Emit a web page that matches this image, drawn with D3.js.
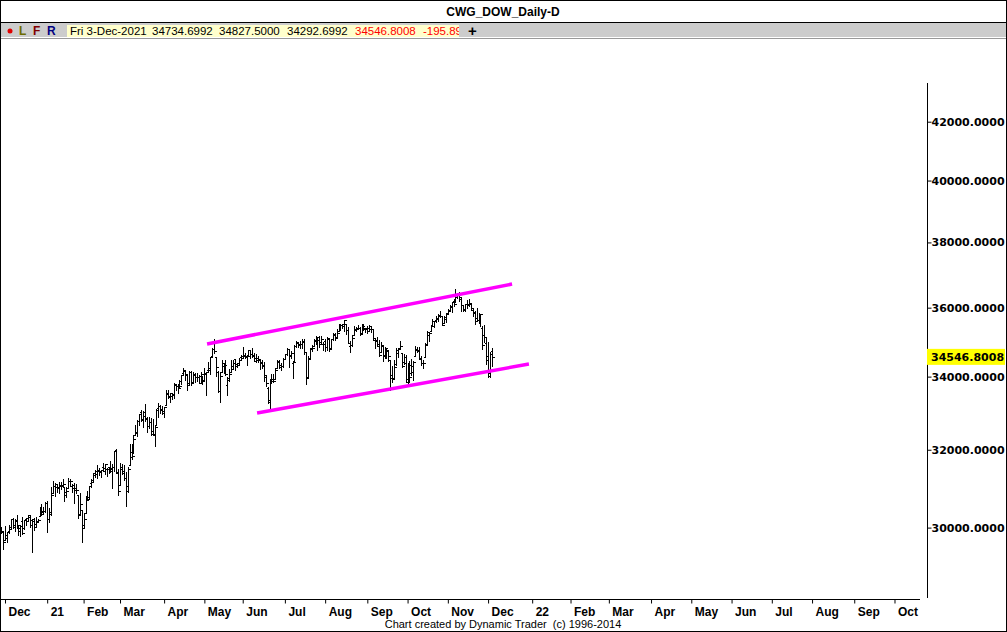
<!DOCTYPE html>
<html><head><meta charset="utf-8">
<script src="https://cdn.jsdelivr.net/npm/d3@7"></script>
<style>body{margin:0;background:#fff}svg{display:block}text{white-space:pre}</style>
</head><body><svg id="c" width="1007" height="632"></svg>
<script>
const title = "CWG_DOW_Daily-D";
const footer = "Chart created by Dynamic Trader  (c) 1996-2014";
const headerTexts = ["Fri 3-Dec-2021","34734.6992","34827.5000","34292.6992","34546.8008","-195.89"];
const lastPrice = 34546.8008;
// [date, open, high, low, close]
const bars = [
["2020-11-27",29973,30014,29865,29910],["2020-11-30",29893,29893,29467,29638],
["2020-12-01",29705,30051,29705,29823],["2020-12-02",29746,29902,29654,29884],["2020-12-03",29924,30070,29860,29970],["2020-12-04",30010,30219,29980,30218],
["2020-12-07",30208,30233,29989,30070],["2020-12-08",30013,30204,29920,30174],["2020-12-09",30187,30319,29995,30068],["2020-12-10",29997,30060,29815,29999],["2020-12-11",29920,30062,29787,30046],
["2020-12-14",30158,30268,29842,29862],["2020-12-15",29980,30202,29956,30199],["2020-12-16",30224,30249,30068,30155],["2020-12-17",30241,30326,30184,30304],["2020-12-18",30275,30319,30007,30179],
["2020-12-21",30075,30215,29400,30216],["2020-12-22",30176,30240,29950,30015],["2020-12-23",30088,30270,30022,30129],["2020-12-24",30153,30227,30130,30200],
["2020-12-28",30283,30526,30283,30404],["2020-12-29",30492,30600,30307,30336],["2020-12-30",30400,30526,30370,30409],["2020-12-31",30418,30638,30389,30606],
["2021-01-04",30627,30674,29881,30224],["2021-01-05",30205,30504,30142,30392],["2021-01-06",30351,31023,30321,30829],["2021-01-07",30870,31193,30870,31041],["2021-01-08",31041,31140,30794,31098],
["2021-01-11",31016,31104,30907,31009],["2021-01-12",31015,31154,30865,31068],["2021-01-13",31063,31147,30964,31060],["2021-01-14",31085,31224,31048,31113],["2021-01-15",31034,31034,30671,30814],
["2021-01-19",30887,31027,30774,30930],["2021-01-20",31009,31272,31008,31188],["2021-01-21",31192,31224,31047,31176],["2021-01-22",31061,31093,30900,30997],
["2021-01-25",31070,31121,30612,30960],["2021-01-26",31010,31106,30879,30937],["2021-01-27",30810,30831,30248,30303],["2021-01-28",30330,30870,30330,30603],["2021-01-29",30440,30440,29650,29983],
["2021-02-01",30054,30377,29990,30212],["2021-02-02",30353,30794,30353,30688],["2021-02-03",30734,30913,30682,30724],["2021-02-04",30782,31057,30714,31056],["2021-02-05",31129,31230,31031,31148],
["2021-02-08",31199,31387,31144,31386],["2021-02-09",31341,31468,31298,31376],["2021-02-10",31436,31593,31248,31438],["2021-02-11",31472,31531,31326,31431],["2021-02-12",31420,31459,31280,31458],
["2021-02-16",31553,31644,31441,31523],["2021-02-17",31445,31616,31362,31613],["2021-02-18",31481,31514,31300,31494],["2021-02-19",31537,31545,31400,31494],
["2021-02-22",31454,31700,31413,31522],["2021-02-23",31433,31613,31010,31537],["2021-02-24",31552,31961,31445,31962],["2021-02-25",31997,32010,31378,31402],["2021-02-26",31417,31502,30830,30932],
["2021-03-01",31066,31653,31066,31535],["2021-03-02",31483,31616,31370,31392],["2021-03-03",31431,31588,31200,31270],["2021-03-04",31249,31405,30547,30924],["2021-03-05",31044,31540,30903,31496],
["2021-03-08",31594,32150,31594,31802],["2021-03-09",31938,32150,31749,31833],["2021-03-10",31967,32389,31904,32297],["2021-03-11",32395,32661,32387,32485],["2021-03-12",32444,32793,32369,32779],
["2021-03-15",32782,32953,32661,32953],["2021-03-16",33012,33072,32776,32826],["2021-03-17",32810,33047,32607,33015],["2021-03-18",32917,33227,32760,32862],["2021-03-19",32834,32875,32479,32628],
["2021-03-22",32641,32887,32589,32731],["2021-03-23",32749,32840,32404,32423],["2021-03-24",32502,32816,32396,32420],["2021-03-25",32381,32640,32090,32619],["2021-03-26",32668,33098,32668,33072],
["2021-03-29",33136,33259,32893,33171],["2021-03-30",33173,33200,32985,33067],["2021-03-31",33107,33174,32975,32982],
["2021-04-01",33055,33167,32874,33153],
["2021-04-05",33222,33617,33222,33527],["2021-04-06",33530,33616,33402,33430],["2021-04-07",33446,33531,33303,33446],["2021-04-08",33554,33554,33379,33503],["2021-04-09",33482,33810,33398,33801],
["2021-04-12",33762,33793,33621,33746],["2021-04-13",33742,33792,33549,33677],["2021-04-14",33751,33907,33678,33730],["2021-04-15",33872,34048,33805,34036],["2021-04-16",34094,34256,34038,34200],
["2021-04-19",34151,34183,33902,34078],["2021-04-20",34034,34067,33622,33821],["2021-04-21",33767,34164,33767,34137],["2021-04-22",34130,34162,33757,33815],["2021-04-23",33859,34135,33818,34043],
["2021-04-26",34072,34101,33841,33982],["2021-04-27",33983,34107,33871,33984],["2021-04-28",33976,34040,33812,33820],["2021-04-29",34021,34136,33812,34060],["2021-04-30",33931,34027,33783,33875],
["2021-05-03",33904,34256,33904,34113],["2021-05-04",34083,34133,33474,34133],["2021-05-05",34201,34404,34125,34230],["2021-05-06",34181,34569,34068,34548],["2021-05-07",34595,34811,34582,34778],
["2021-05-10",34779,35091,34677,34743],["2021-05-11",34550,34550,34022,34270],["2021-05-12",34127,34158,33565,33587],["2021-05-13",33600,34143,33300,34021],["2021-05-14",34125,34473,34125,34382],
["2021-05-17",34298,34346,34109,34327],["2021-05-18",34365,34459,34046,34061],["2021-05-19",33773,34003,33473,33896],["2021-05-20",33958,34224,33887,34084],["2021-05-21",34132,34475,34132,34208],
["2021-05-24",34302,34462,34246,34394],["2021-05-25",34492,34510,34189,34313],["2021-05-26",34350,34398,34279,34323],["2021-05-27",34380,34515,34341,34465],["2021-05-28",34547,34627,34506,34529],
["2021-06-01",34584,34849,34515,34575],["2021-06-02",34618,34674,34533,34600],["2021-06-03",34551,34601,34335,34577],["2021-06-04",34618,34772,34618,34756],
["2021-06-07",34758,34758,34522,34630],["2021-06-08",34656,34809,34547,34600],["2021-06-09",34628,34669,34436,34448],["2021-06-10",34524,34634,34414,34466],["2021-06-11",34515,34584,34421,34480],
["2021-06-14",34504,34504,34209,34394],["2021-06-15",34414,34466,34232,34299],["2021-06-16",34337,34420,33876,34034],["2021-06-17",33986,34026,33742,33823],["2021-06-18",33688,33713,33271,33290],
["2021-06-21",33342,33933,33070,33876],["2021-06-22",33867,34071,33815,33946],["2021-06-23",33936,34065,33838,33874],["2021-06-24",33943,34255,33943,34196],["2021-06-25",34232,34483,34232,34433],
["2021-06-28",34425,34464,34231,34283],["2021-06-29",34320,34380,34198,34292],["2021-06-30",34296,34518,34260,34503],
["2021-07-01",34507,34656,34496,34634],["2021-07-02",34642,34821,34606,34786],
["2021-07-06",34790,34790,34286,34577],["2021-07-07",34623,34731,34519,34681],["2021-07-08",34380,34407,33950,34421],["2021-07-09",34457,34893,34457,34870],
["2021-07-12",34880,35012,34850,34996],["2021-07-13",34967,35000,34841,34889],["2021-07-14",34925,35023,34818,34934],["2021-07-15",34935,35066,34830,34987],["2021-07-16",35023,35091,34653,34688],
["2021-07-19",34687,34687,33800,33962],["2021-07-20",34000,34600,33960,34512],["2021-07-21",34520,34812,34520,34798],["2021-07-22",34807,34900,34733,34823],["2021-07-23",34878,35081,34878,35061],
["2021-07-26",35021,35171,34925,35144],["2021-07-27",35094,35127,34745,35058],["2021-07-28",35048,35168,34847,34931],["2021-07-29",34980,35171,34960,35085],["2021-07-30",34939,35001,34745,34935],
["2021-08-02",35010,35077,34730,34838],["2021-08-03",34844,35136,34770,35117],["2021-08-04",35074,35088,34740,34793],["2021-08-05",34816,35080,34780,35065],["2021-08-06",35082,35246,35041,35209],
["2021-08-09",35181,35251,35034,35102],["2021-08-10",35129,35383,35129,35265],["2021-08-11",35302,35529,35302,35485],["2021-08-12",35453,35501,35333,35500],["2021-08-13",35485,35519,35385,35516],
["2021-08-16",35459,35632,35316,35626],["2021-08-17",35522,35522,35212,35344],["2021-08-18",35335,35429,34950,34961],["2021-08-19",34861,35008,34690,34894],["2021-08-20",34895,35183,34876,35120],
["2021-08-23",35201,35459,35201,35336],["2021-08-24",35366,35434,35321,35367],["2021-08-25",35394,35487,35361,35406],["2021-08-26",35404,35415,35196,35214],["2021-08-27",35254,35513,35223,35456],
["2021-08-30",35474,35510,35353,35400],["2021-08-31",35375,35410,35279,35361],
["2021-09-01",35387,35466,35240,35313],["2021-09-02",35386,35491,35313,35444],["2021-09-03",35380,35419,35281,35370],
["2021-09-07",35360,35362,35052,35100],["2021-09-08",35054,35114,34822,35031],["2021-09-09",35036,35144,34875,34879],["2021-09-10",34934,35040,34587,34608],
["2021-09-13",34697,35002,34697,34870],["2021-09-14",34891,34911,34437,34578],["2021-09-15",34602,34853,34526,34814],["2021-09-16",34762,34821,34533,34751],["2021-09-17",34723,34749,34431,34584],
["2021-09-20",34475,34475,33614,33970],["2021-09-21",34046,34300,33842,33919],["2021-09-22",33956,34464,33952,34258],["2021-09-23",34354,34816,34342,34765],["2021-09-24",34681,34813,34550,34798],
["2021-09-27",34822,35031,34785,34870],["2021-09-28",34664,34678,34274,34300],["2021-09-29",34413,34653,34357,34390],["2021-09-30",34549,34604,33840,33844],
["2021-10-01",33930,34376,33734,34326],
["2021-10-04",34314,34453,33850,34003],["2021-10-05",34100,34487,34036,34314],["2021-10-06",34129,34430,33900,34417],["2021-10-07",34585,34878,34585,34755],["2021-10-08",34776,34832,34691,34746],
["2021-10-11",34730,34833,34491,34496],["2021-10-12",34534,34589,34325,34378],["2021-10-13",34383,34483,34231,34377],["2021-10-14",34547,34955,34547,34912],["2021-10-15",34930,35323,34930,35295],
["2021-10-18",35200,35272,35026,35259],["2021-10-19",35296,35475,35296,35458],["2021-10-20",35491,35669,35476,35609],["2021-10-21",35592,35608,35437,35603],["2021-10-22",35639,35765,35574,35677],
["2021-10-25",35707,35818,35603,35741],["2021-10-26",35771,35892,35712,35756],["2021-10-27",35762,35762,35488,35491],["2021-10-28",35538,35754,35538,35731],["2021-10-29",35665,35833,35568,35820],
["2021-11-01",35833,35963,35798,35913],["2021-11-02",35944,36077,35911,36053],["2021-11-03",36034,36174,35869,36158],["2021-11-04",36195,36242,36046,36124],["2021-11-05",36250,36565,36182,36328],
["2021-11-08",36371,36452,36287,36432],["2021-11-09",36455,36456,36195,36320],["2021-11-10",36271,36320,35901,36080],["2021-11-11",36067,36083,35911,35921],["2021-11-12",35958,36111,35893,36100],
["2021-11-15",36104,36228,36003,36087],["2021-11-16",36123,36249,36047,36143],["2021-11-17",36116,36130,35931,35931],["2021-11-18",35990,35997,35749,35871],["2021-11-19",35853,35888,35520,35602],
["2021-11-22",35700,35979,35610,35619],["2021-11-23",35620,35850,35540,35814],["2021-11-24",35700,35822,35460,35804],["2021-11-26",35400,35456,34800,34899],
["2021-11-29",35200,35491,34980,35136],["2021-11-30",34960,35100,34370,34484],
["2021-12-01",34600,35000,34000,34022],["2021-12-02",34100,34700,34000,34640],["2021-12-03",34734.7,34827.5,34292.7,34546.8]
];
const monthLabels = ["Dec","21","Feb","Mar","Apr","May","Jun","Jul","Aug","Sep","Oct","Nov","Dec","22","Feb","Mar","Apr","May","Jun","Jul","Aug","Sep","Oct"];
const monthIdx = [2,24,43,62,85,106,126,148,169,191,212,233,254,277,297,317,339,360,381,402,423,445,466];
const yTicks = [30000,32000,34000,36000,38000,40000,42000];
const trendUpper = [[107.4,34932],[266.5,36711]];
const trendLower = [[133.5,32990],[275.3,34357]];

const svg = d3.select("#c");
const W = 1007, H = 632;
const font = "'Liberation Sans', Arial, sans-serif";
const x = d3.scaleLinear().domain([0,480]).range([1.17,921.33]);
const y = d3.scaleLog().domain([30000,42000]).range([527.6,121.7]);

// frame
svg.append("rect").attr("x",0.5).attr("y",0.5).attr("width",W-1).attr("height",H-1).attr("fill","#fff").attr("stroke","#000");
// title
svg.append("text").attr("x",503).attr("y",16).attr("text-anchor","middle").attr("font-family",font).attr("font-weight","bold").attr("font-size",12).text(title);
svg.append("line").attr("x1",0).attr("x2",W).attr("y1",22.5).attr("y2",22.5).attr("stroke","#000");
// header bar
svg.append("rect").attr("x",1).attr("y",23).attr("width",W-2).attr("height",14).attr("fill","#cccccc");
svg.append("line").attr("x1",1).attr("x2",W-1).attr("y1",38.5).attr("y2",38.5).attr("stroke","#999");
svg.append("circle").attr("cx",10).attr("cy",31).attr("r",2.5).attr("fill","#e00000");
[["L","#6b6b00",19],["F","#800000",33],["R","#000080",47]].forEach(d=>{
  svg.append("text").attr("x",d[2]).attr("y",35).attr("font-family",font).attr("font-weight","bold").attr("font-size",12).attr("fill",d[1]).text(d[0]);
});
svg.append("rect").attr("x",67).attr("y",25).attr("width",392).attr("height",12).attr("fill","#ffffcc");
const hx = [70,152,219,287,355,423];
const hcol = ["#000","#000","#000","#000","#ff0000","#ff0000"];
svg.append("clipPath").attr("id","hclip").append("rect").attr("x",67).attr("y",23).attr("width",392).attr("height",15);
const hg = svg.append("g").attr("clip-path","url(#hclip)");
headerTexts.forEach((t,i)=>{
  hg.append("text").attr("x",hx[i]).attr("y",35).attr("font-family",font).attr("font-size",11.5).attr("fill",hcol[i]).text(t);
});
svg.append("text").attr("x",468).attr("y",36).attr("font-family",font).attr("font-weight","bold").attr("font-size",15).text("+");

// plot clip
svg.append("clipPath").attr("id","pclip").append("rect").attr("x",1).attr("y",40).attr("width",920).attr("height",558);
const pg = svg.append("g").attr("clip-path","url(#pclip)");

// bars
const bg = pg.append("g").attr("stroke","#000").attr("stroke-width",1.15).attr("shape-rendering","crispEdges");
bars.forEach((b,i)=>{
  const cx = Math.round(x(i))+0.5;
  bg.append("line").attr("x1",cx).attr("x2",cx).attr("y1",Math.round(y(b[2]))).attr("y2",Math.round(y(b[3]))+1);
  const yo = Math.round(y(b[1]))+0.5, yc = Math.round(y(b[4]))+0.5;
  bg.append("line").attr("x1",cx-2).attr("x2",cx).attr("y1",yo).attr("y2",yo);
  bg.append("line").attr("x1",cx).attr("x2",cx+2).attr("y1",yc).attr("y2",yc);
});

// trendlines
[trendUpper,trendLower].forEach(t=>{
  pg.append("line").attr("x1",x(t[0][0])).attr("y1",y(t[0][1])).attr("x2",x(t[1][0])).attr("y2",y(t[1][1]))
    .attr("stroke","#ff00ff").attr("stroke-width",3.5);
});

// right axis
const ax = 927.5;
svg.append("line").attr("x1",ax).attr("x2",ax).attr("y1",83).attr("y2",598).attr("stroke","#000");
const ya = svg.append("g").attr("transform",`translate(${ax},0)`)
  .call(d3.axisRight(y).tickValues(yTicks).tickFormat(d=>d.toFixed(4)).tickSize(4).tickPadding(0));
ya.select(".domain").remove();
ya.selectAll("text").attr("font-family","'DejaVu Sans', Verdana, sans-serif").attr("font-weight","bold").attr("font-size",11).attr("fill","#000");
ya.selectAll("line").attr("stroke","#000");
// last price label
const ly = y(lastPrice);
svg.append("rect").attr("x",927).attr("y",ly-8.5).attr("width",78).attr("height",16).attr("fill","#ffff00");
svg.append("text").attr("x",931).attr("y",ly+4).attr("font-family","'DejaVu Sans', Verdana, sans-serif").attr("font-weight","bold").attr("font-size",11).text(lastPrice.toFixed(4));

// bottom axis
const by = 599.5;
svg.append("line").attr("x1",1).attr("x2",920).attr("y1",by).attr("y2",by).attr("stroke","#000");
const xa = svg.append("g").attr("transform",`translate(0,${by})`)
  .call(d3.axisBottom(x).tickValues(monthIdx).tickFormat((d,i)=>monthLabels[i]).tickSize(4).tickPadding(4));
xa.select(".domain").remove();
xa.selectAll(".tick line").attr("stroke","#000");
xa.selectAll("text").attr("font-family",font).attr("font-weight","bold").attr("font-size",12).attr("fill","#000").attr("text-anchor","start").attr("dx",3);
svg.append("text").attr("x",503).attr("y",628).attr("text-anchor","middle").attr("font-family",font).attr("font-size",11).attr("xml:space","preserve").text(footer);
</script></body></html>
